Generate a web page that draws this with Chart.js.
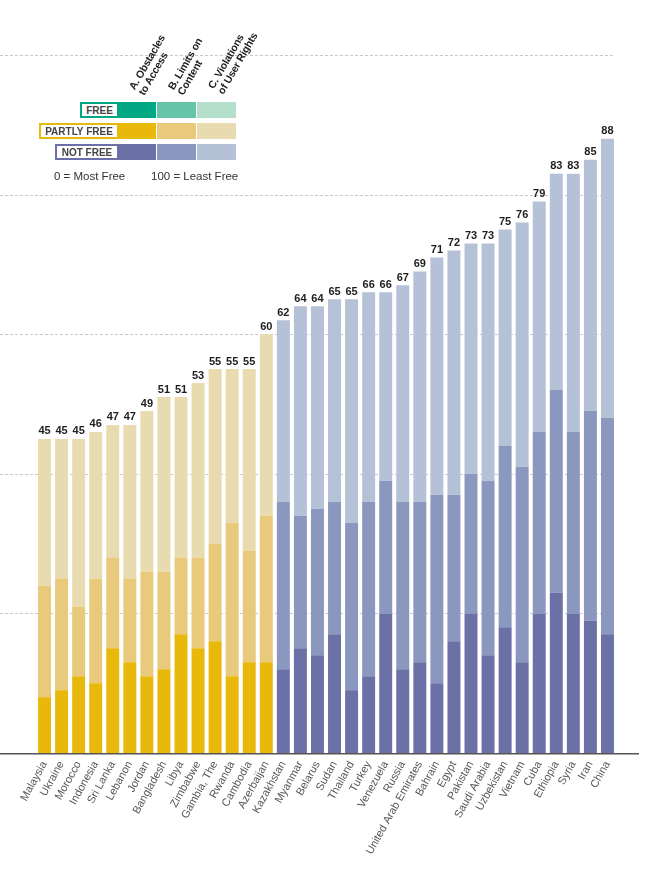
<!DOCTYPE html>
<html>
<head>
<meta charset="utf-8">
<script src="https://cdn.jsdelivr.net/npm/chart.js@4.4.1/dist/chart.umd.min.js"></script>
<style>
  body { margin: 0; background: #fff; }
  #wrap { position: relative; width: 659px; height: 872px; font-family: "Liberation Sans", Arial, sans-serif; }
  #chart { position: absolute; left: 0; top: 0; }
  .hdr { position: absolute; font-weight: bold; font-size: 10.5px; line-height: 10.5px; color: #222; letter-spacing: -0.2px;
         white-space: nowrap; transform-origin: 0 0; transform: rotate(-60deg); }
  .cell { position: absolute; height: 16px; }
  .tag { position: absolute; height: 16px; box-sizing: border-box; background: #fff; font-weight: bold;
         font-size: 10px; line-height: 13px; color: #444; text-align: center; border-width: 2px 0 2px 2px; border-style: solid; }
  .note { position: absolute; font-size: 11.5px; color: #333; top: 170px; }
</style>
</head>
<body>
<div id="wrap">
  <canvas id="chart" width="659" height="872"></canvas>
</div>
<script>
// Countries, sorted by total score
var countries = ["Malaysia", "Ukraine", "Morocco", "Indonesia", "Sri Lanka", "Lebanon", "Jordan", "Bangladesh",
  "Libya", "Zimbabwe", "Gambia, The", "Rwanda", "Cambodia", "Azerbaijan", "Kazakhstan", "Myanmar", "Belarus",
  "Sudan", "Thailand", "Turkey", "Venezuela", "Russia", "United Arab Emirates", "Bahrain", "Egypt", "Pakistan",
  "Saudi Arabia", "Uzbekistan", "Vietnam", "Cuba", "Ethiopia", "Syria", "Iran", "China"];

// A. Obstacles to Access
var obstacles = [8, 9, 11, 10, 15, 13, 11, 12, 17, 15, 16, 11, 13, 13, 12, 15, 14, 17, 9, 11, 20, 12, 13, 10, 16, 20, 14, 18, 13, 20, 23, 20, 19, 17];
// B. Limits on Content
var limits = [16, 16, 10, 15, 13, 12, 15, 14, 11, 13, 14, 22, 16, 21, 24, 19, 21, 19, 24, 25, 19, 24, 23, 27, 21, 20, 25, 26, 28, 26, 29, 26, 30, 31];
// C. Violations of User Rights
var violations = [21, 20, 24, 21, 19, 22, 23, 25, 23, 25, 25, 22, 26, 26, 26, 30, 29, 29, 32, 30, 27, 31, 33, 34, 35, 33, 34, 31, 35, 33, 31, 37, 36, 40];

var gridValues = [20, 40, 60, 80, 100];

// colours per status: [A, B, C]
var colFree = ["#00a884", "#66c4a8", "#b3dfcb"];
var colPartly = ["#e8b90b", "#e9c97b", "#e8dbb0"];
var colNot = ["#6b70a6", "#8a97bf", "#b4c1d6"];

var totals = countries.map(function(c, i) { return obstacles[i] + limits[i] + violations[i]; });

function colorsFor(k) {
  return totals.map(function(t) {
    if (t > 60) return colNot[k];
    if (t > 30) return colPartly[k];
    return colFree[k];
  });
}

// legend block (html)
var wrap = document.getElementById('wrap');
function addDiv(cls, css, html) {
  var d = document.createElement('div');
  d.className = cls;
  d.style.cssText = css;
  if (html) d.innerHTML = html;
  wrap.appendChild(d);
}
addDiv('hdr', 'left:127px;top:86px;', 'A. Obstacles<br>to Access');
addDiv('hdr', 'left:166px;top:86px;', 'B. Limits on<br>Content');
addDiv('hdr', 'left:206px;top:85px;', 'C. Violations<br>of User Rights');

var rows = [
  { name: 'FREE', left: 80, top: 102, cols: colFree },
  { name: 'PARTLY FREE', left: 39, top: 123, cols: colPartly },
  { name: 'NOT FREE', left: 55, top: 144, cols: colNot }
];
rows.forEach(function(r) {
  addDiv('tag', 'left:' + r.left + 'px;top:' + r.top + 'px;width:' + (117 - r.left) + 'px;border-color:' + r.cols[0] + ';', r.name);
  addDiv('cell', 'left:117px;top:' + r.top + 'px;width:39px;background:' + r.cols[0]);
  addDiv('cell', 'left:157px;top:' + r.top + 'px;width:39px;background:' + r.cols[1]);
  addDiv('cell', 'left:197px;top:' + r.top + 'px;width:39px;background:' + r.cols[2]);
});
addDiv('note', 'left:54px;', '0 = Most Free');
addDiv('note', 'left:151px;', '100 = Least Free');

const gridPlugin = {
  id: 'grid_and_labels',
  beforeDatasetsDraw: (chart) => {
    const ctx = chart.ctx;
    const y = chart.scales.y;
    ctx.save();
    ctx.strokeStyle = '#c9c9c9';
    ctx.lineWidth = 1;
    ctx.setLineDash([3, 2]);
    gridValues.forEach(function(v) {
      var py = Math.round(y.getPixelForValue(v)) + 0.5;
      ctx.beginPath();
      ctx.moveTo(0, py);
      ctx.lineTo(614, py);
      ctx.stroke();
    });
    ctx.restore();
  },
  afterDatasetsDraw: (chart) => {
    const ctx = chart.ctx;
    const y = chart.scales.y;
    const x = chart.scales.x;
    ctx.save();
    // baseline
    ctx.strokeStyle = '#555';
    ctx.lineWidth = 1.5;
    var by = y.getPixelForValue(0) + 0.75;
    ctx.beginPath();
    ctx.moveTo(0, by);
    ctx.lineTo(639, by);
    ctx.stroke();
    // totals above bars
    ctx.fillStyle = '#1e1e1e';
    ctx.font = 'bold 11px "Liberation Sans", Arial, sans-serif';
    ctx.textAlign = 'center';
    ctx.textBaseline = 'bottom';
    totals.forEach(function(t, i) {
      ctx.fillText(t, x.getPixelForValue(i), y.getPixelForValue(t) - 2);
    });
    ctx.restore();
  }
};

var ctx = document.getElementById('chart').getContext('2d');
var myChart = new Chart(ctx, {
  type: 'bar',
  data: {
    labels: countries,
    datasets: [
      { label: 'A. Obstacles to Access', data: obstacles, backgroundColor: colorsFor(0) },
      { label: 'B. Limits on Content', data: limits, backgroundColor: colorsFor(1) },
      { label: 'C. Violations of User Rights', data: violations, backgroundColor: colorsFor(2) }
    ]
  },
  options: {
    responsive: false,
    animation: false,
    layout: { padding: { top: 55, left: 36, right: 43, bottom: 0 } },
    datasets: { bar: { barPercentage: 0.76, categoryPercentage: 1 } },
    scales: {
      x: {
        stacked: true,
        grid: { display: false, drawTicks: false },
        border: { display: false },
        ticks: {
          autoSkip: false,
          minRotation: 61,
          maxRotation: 61,
          padding: 6,
          color: '#555',
          font: { family: '"Liberation Sans", Arial, sans-serif', size: 11 }
        },
        afterFit: function(s) {
          s.height = 119;
          s.paddingLeft = 0;
          s.paddingRight = 0;
        }
      },
      y: {
        stacked: true,
        display: false,
        min: 0,
        max: 100
      }
    },
    plugins: {
      legend: { display: false },
      tooltip: { enabled: false }
    }
  },
  plugins: [gridPlugin]
});
</script>
</body>
</html>
